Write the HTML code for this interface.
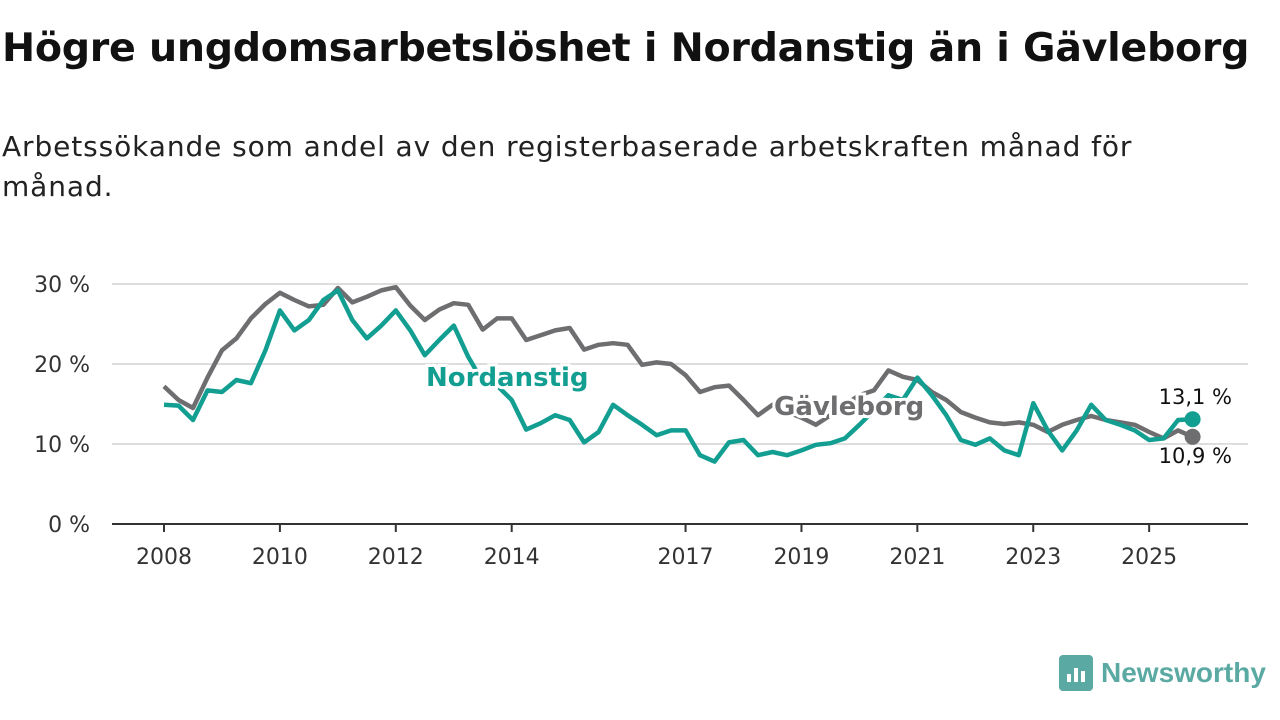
<!DOCTYPE html>
<html><head><meta charset="utf-8"><style>
body{margin:0;width:1280px;height:720px;background:#fff;font-family:"DejaVu Sans","Liberation Sans",sans-serif;color:#111;overflow:hidden;position:relative}
h1{position:absolute;left:2px;top:25px;margin:0;font-size:39.6px;font-weight:bold;letter-spacing:-0.3px}
.sub{position:absolute;left:2px;top:127px;margin:0;font-size:28px;letter-spacing:0.9px;line-height:40px;width:1190px;color:#222}
svg{position:absolute;left:0;top:0}
</style></head><body>
<h1>Högre ungdomsarbetslöshet i Nordanstig än i Gävleborg</h1>
<p class="sub">Arbetssökande som andel av den registerbaserade arbetskraften månad för månad.</p>
<svg id="c" width="1280" height="720"></svg>
<script>
const yTicks=[0,10,20,30];
const yTickLabels=["0 %","10 %","20 %","30 %"];
const xTicks=[2008,2010,2012,2014,2017,2019,2021,2023,2025];
const gavleborg=[17.2,15.5,14.5,18.3,21.7,23.2,25.7,27.5,28.9,28,27.2,27.4,29.5,27.7,28.4,29.2,29.6,27.3,25.5,26.8,27.6,27.4,24.3,25.7,25.7,23,23.6,24.2,24.5,21.8,22.4,22.6,22.4,19.9,20.2,20,18.6,16.5,17.1,17.3,15.5,13.6,14.9,14,13.3,12.4,13.6,14.9,16.1,16.7,19.2,18.4,18,16.5,15.5,14,13.3,12.7,12.5,12.7,12.4,11.5,12.4,13,13.5,13,12.7,12.4,11.5,10.7,11.7,10.9];
const nordanstig=[14.9,14.8,13,16.7,16.5,18,17.6,21.7,26.7,24.2,25.5,28,29.2,25.5,23.2,24.8,26.7,24.2,21.1,23,24.8,20.9,17.8,17.3,15.5,11.8,12.6,13.6,13,10.2,11.5,14.9,13.6,12.4,11.1,11.7,11.7,8.6,7.8,10.2,10.5,8.6,9,8.6,9.2,9.9,10.1,10.7,12.4,14.2,16.1,15.5,18.3,16.1,13.6,10.5,9.9,10.7,9.2,8.6,15.1,11.7,9.2,11.7,14.9,13,12.4,11.7,10.5,10.7,13,13.1];
const NS="http://www.w3.org/2000/svg";
const svg=document.getElementById('c');
const X=t=>164+(t-2008)*57.95;
const Y=v=>524-v*8;
const tAt=i=>2008+i*0.25;
function mk(tag,attrs,txt){const e=document.createElementNS(NS,tag);for(const k in attrs)e.setAttribute(k,attrs[k]);if(txt!==undefined)e.textContent=txt;svg.appendChild(e);return e;}
yTicks.forEach((v,i)=>{
 if(v>0){const g=mk('line',{x1:112,x2:1248,y1:Y(v),y2:Y(v),stroke:'#ddd','stroke-width':2});
 
 }
 const t=mk('text',{x:90,y:Y(v)+8,'text-anchor':'end','font-size':22,fill:'#333'},yTickLabels[i]);
 
 
});
const ax=mk('line',{x1:112,x2:1248,y1:524,y2:524,stroke:'#333','stroke-width':2});


xTicks.forEach(yr=>{
 const tk=mk('line',{x1:X(yr),x2:X(yr),y1:524,y2:532,stroke:'#333','stroke-width':2});
 
 
 const t=mk('text',{x:X(yr),y:564,'text-anchor':'middle','font-size':22,fill:'#333'},yr);
 
 
});
function path(arr){return arr.map((v,i)=>(i?'L':'M')+X(tAt(i)).toFixed(1)+','+Y(v).toFixed(1)).join('');}
const gl=mk('path',{d:path(gavleborg),fill:'none',stroke:'#6e6d70','stroke-width':4.5,'stroke-linejoin':'round'});


const nl=mk('path',{d:path(nordanstig),fill:'none',stroke:'#139e92','stroke-width':4.5,'stroke-linejoin':'round'});


const last=gavleborg.length-1;
const gd=mk('circle',{cx:X(tAt(last)),cy:Y(gavleborg[last]),r:8,fill:'#6e6d70'});


const nd=mk('circle',{cx:X(tAt(last)),cy:Y(nordanstig[last]),r:8,fill:'#139e92'});


const lab=(x,y,s,fill,name)=>{const t=mk('text',{x:x,y:y,'font-size':26,'font-weight':'bold',fill:fill,stroke:'#fff','stroke-width':6,'paint-order':'stroke'},s);
 
 };
lab(426,386,'Nordanstig','#139e92','nordanstig-label');
lab(774,415,'Gävleborg','#6e6d70','gavleborg-label');
const v1=mk('text',{x:1232,y:404,'font-size':21,'text-anchor':'end',fill:'#111',stroke:'#fff','stroke-width':5,'paint-order':'stroke'},'13,1 %');


const v2=mk('text',{x:1232,y:463,'font-size':21,'text-anchor':'end',fill:'#111',stroke:'#fff','stroke-width':5,'paint-order':'stroke'},'10,9 %');


</script>
<div style="position:absolute;left:1059px;top:655px;display:flex;align-items:center">
<div style="width:34px;height:36px;background:#5aa9a3;border-radius:4px;position:relative">
<div style="position:absolute;left:8px;bottom:9px;width:4px;height:8px;background:#fff"></div>
<div style="position:absolute;left:15px;bottom:9px;width:4px;height:14px;background:#fff"></div>
<div style="position:absolute;left:22px;bottom:9px;width:4px;height:11px;background:#fff"></div>
</div>
<span style="margin-left:8px;font-size:28px;font-weight:bold;color:#5aa9a3;font-family:'Liberation Sans',sans-serif">Newsworthy</span>
</div>
</body></html>
